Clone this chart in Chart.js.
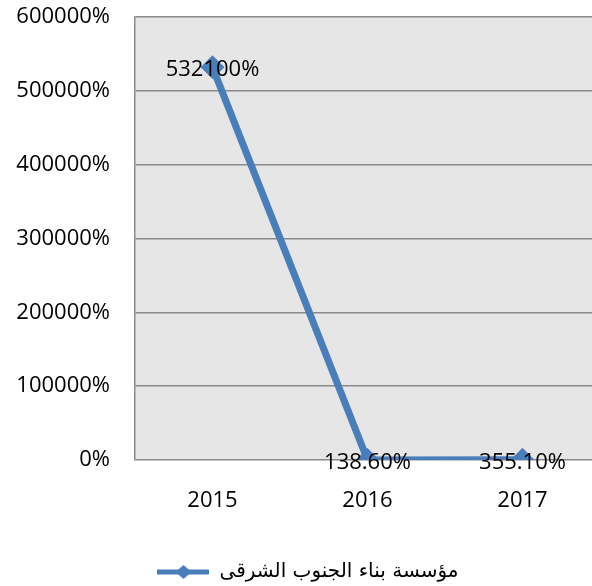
<!DOCTYPE html>
<html>
<head>
<meta charset="utf-8">
<script src="https://cdn.jsdelivr.net/npm/chart.js@4.4.1/dist/chart.umd.min.js"></script>
<style>
  html, body { margin: 0; padding: 0; background: #ffffff; overflow: hidden; }
  #wrap { width: 600px; height: 586px; }
</style>
</head>
<body>
<div id="wrap"><canvas id="c" width="600" height="586"></canvas></div>
<script>
const categories = ['2015', '2016', '2017'];
const seriesName = 'مؤسسة بناء الجنوب الشرقى';
const seriesValues = [532100, 138.6, 355.1];
const yTicks = [0, 100000, 200000, 300000, 400000, 500000, 600000];

const lineColor = '#4a7ebb';
const fontFamily = '"Open Sans", Lato, sans-serif';
const tickFont = { family: fontFamily, size: 22 };

function fmt(v) {
  return v >= 1000 ? v.toFixed(0) + '%' : v.toFixed(2) + '%';
}

// legend marker: line with a diamond
const marker = document.createElement('canvas');
marker.width = 52; marker.height = 18;
(function () {
  const g = marker.getContext('2d');
  g.strokeStyle = lineColor; g.lineWidth = 5;
  g.beginPath(); g.moveTo(0, 9); g.lineTo(52, 9); g.stroke();
  g.fillStyle = lineColor;
  g.beginPath(); g.moveTo(26, 2); g.lineTo(34, 9); g.lineTo(26, 16); g.lineTo(18, 9); g.closePath(); g.fill();
})();

const plotBg = {
  id: 'plotBg',
  beforeDraw(chart) {
    const a = chart.chartArea, ctx = chart.ctx;
    ctx.save(); ctx.fillStyle = '#e6e6e6';
    ctx.fillRect(a.left, a.top, a.right - a.left, a.bottom - a.top);
    ctx.restore();
  }
};

const dataLabels = {
  id: 'dataLabels',
  afterDatasetsDraw(chart) {
    const ctx = chart.ctx;
    const meta = chart.getDatasetMeta(0);
    ctx.save();
    ctx.font = '22px ' + fontFamily;
    ctx.fillStyle = '#000';
    ctx.textAlign = 'center';
    ctx.textBaseline = 'middle';
    meta.data.forEach((pt, i) => {
      ctx.fillText(fmt(seriesValues[i]), pt.x, pt.y + 3);
    });
    ctx.restore();
  }
};

const noPad = () => ({ left: 0, top: 0, right: 0, bottom: 0 });

new Chart(document.getElementById('c'), {
  type: 'line',
  data: {
    labels: categories,
    datasets: [{
      label: seriesName,
      data: seriesValues,
      borderColor: lineColor,
      backgroundColor: lineColor,
      borderWidth: 7,
      pointStyle: 'rectRot',
      pointRadius: 7,
      pointHoverRadius: 7,
      pointBackgroundColor: lineColor,
      pointBorderColor: lineColor,
      tension: 0
    }]
  },
  options: {
    responsive: false,
    animation: false,
    events: [],
    layout: { autoPadding: false, padding: { left: 16, right: 0, top: 17, bottom: -6 } },
    plugins: {
      tooltip: { enabled: false },
      legend: {
        position: 'bottom',
        labels: {
          usePointStyle: true,
          pointStyleWidth: 52,
          color: '#000',
          font: { family: '"DejaVu Sans", sans-serif', size: 20 },
          padding: 0,
          generateLabels(chart) {
            return [{
              text: seriesName,
              pointStyle: marker,
              fillStyle: lineColor,
              strokeStyle: lineColor,
              lineWidth: 0,
              hidden: false,
              datasetIndex: 0,
              fontColor: '#000'
            }];
          }
        }
      }
    },
    scales: {
      x: {
        offset: true,
        grid: { display: false, drawTicks: false },
        border: { display: false },
        ticks: { color: '#000', font: tickFont, padding: 28, maxRotation: 0 },
        afterFit(s) { s.height = 102; s.paddingLeft = 0; s.paddingRight = 0; s.getPadding = noPad; }
      },
      y: {
        min: 0, max: 600000,
        afterBuildTicks(s) { s.ticks = yTicks.map(v => ({ value: v })); },
        grid: { color: '#8a8a8a', lineWidth: 1.5, drawTicks: false },
        border: { display: true, color: '#8a8a8a', width: 1.5 },
        ticks: {
          color: '#000', font: tickFont, padding: 25,
          callback: v => v + '%'
        },
        afterFit(s) { s.width = 119; s.paddingTop = 0; s.paddingBottom = 0; s.getPadding = noPad; }
      }
    }
  },
  plugins: [plotBg, dataLabels]
});
</script>
</body>
</html>
